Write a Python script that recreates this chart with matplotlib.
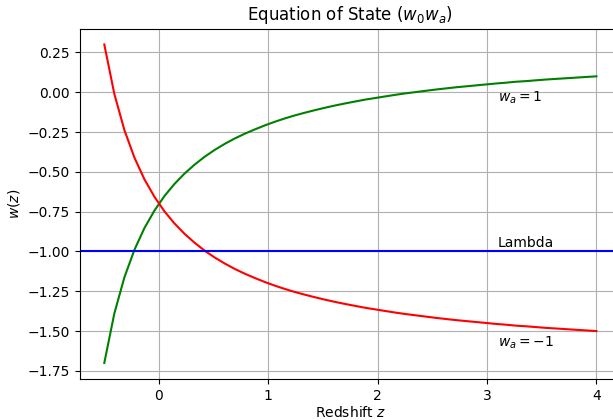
import matplotlib
matplotlib.use("Agg")
import matplotlib.pyplot as plt

# redshift samples
z = [-0.5, -0.408, -0.316, -0.224, -0.133, -0.041, 0.051, 0.143, 0.235, 0.327,
     0.418, 0.510, 0.602, 0.694, 0.786, 0.878, 0.969, 1.061, 1.153, 1.245,
     1.337, 1.429, 1.520, 1.612, 1.704, 1.796, 1.888, 1.980, 2.071, 2.163,
     2.255, 2.347, 2.439, 2.531, 2.622, 2.714, 2.806, 2.898, 2.990, 3.082,
     3.173, 3.265, 3.357, 3.449, 3.541, 3.633, 3.724, 3.816, 3.908, 4.0]

# w(z), wa = 1 (green)
w_pos = [-1.700, -1.389, -1.162, -0.989, -0.853, -0.743, -0.651, -0.575, -0.510, -0.454,
         -0.405, -0.362, -0.324, -0.290, -0.260, -0.233, -0.208, -0.185, -0.164, -0.145,
         -0.128, -0.112, -0.097, -0.083, -0.070, -0.058, -0.046, -0.036, -0.026, -0.016,
         -0.007, 0.001, 0.009, 0.017, 0.024, 0.031, 0.037, 0.043, 0.049, 0.055,
         0.060, 0.066, 0.070, 0.075, 0.080, 0.084, 0.088, 0.092, 0.096, 0.100]

# wa = -1 (red)
w_neg = [0.300, -0.011, -0.238, -0.411, -0.547, -0.657, -0.749, -0.825, -0.890, -0.946,
         -0.995, -1.038, -1.076, -1.110, -1.140, -1.167, -1.192, -1.215, -1.236, -1.255,
         -1.272, -1.288, -1.303, -1.317, -1.330, -1.342, -1.354, -1.364, -1.374, -1.384,
         -1.393, -1.401, -1.409, -1.417, -1.424, -1.431, -1.437, -1.443, -1.449, -1.455,
         -1.460, -1.466, -1.470, -1.475, -1.480, -1.484, -1.488, -1.492, -1.496, -1.500]

w_lambda = -1.0

fig, ax = plt.subplots(figsize=(6.13, 4.2), dpi=100)
ax.plot(z, w_pos, color='green')
ax.plot(z, w_neg, color='red')
ax.axhline(w_lambda, color='blue')
ax.text(3.1, -0.06, r'$w_a = 1$')
ax.text(3.1, -0.97, 'Lambda')
ax.text(3.1, -1.6, r'$w_a = -1$')
ax.set_title(r'Equation of State ($w_0w_a$)')
ax.set_xlabel(r'Redshift $z$', labelpad=2)
ax.set_ylabel(r'$w(z)$')
ax.grid(True)
# the reference is cropped on the right, so the axes run past the edge
plt.subplots_adjust(left=0.13, right=1.013, top=0.932, bottom=0.098)
plt.savefig('out.png')
